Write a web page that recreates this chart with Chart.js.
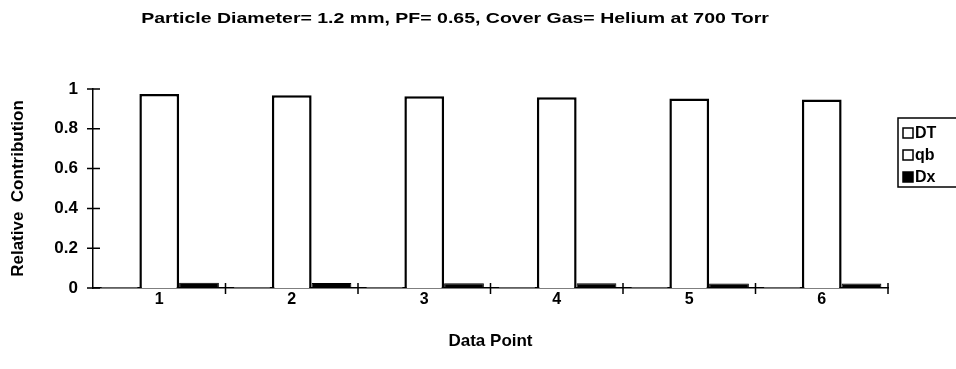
<!DOCTYPE html>
<html>
<head>
<meta charset="utf-8">
<script src="https://cdn.jsdelivr.net/npm/chart.js@4/dist/chart.umd.min.js"></script>
<style>
  html, body { margin: 0; padding: 0; background: #fff; overflow: hidden; }
  canvas { display: block; }
</style>
</head>
<body>
<canvas id="myChart" width="956" height="369"></canvas>
<script>
// Values
const categories = ['1', '2', '3', '4', '5', '6'];
const dtValues = [0.975, 0.968, 0.963, 0.958, 0.952, 0.947];
const qbValues = [0.004, 0.004, 0.004, 0.004, 0.004, 0.004];
const dxValues = [0.027, 0.025, 0.024, 0.024, 0.023, 0.023];
const yTickLabels = ['0', '0.2', '0.4', '0.6', '0.8', '1'];
const legendOrder = ['DT', 'qb', 'Dx'];

const titleText = 'Particle Diameter= 1.2 mm, PF= 0.65, Cover Gas= Helium at 700 Torr';
const FONT = '"Liberation Sans", Arial, sans-serif';

// title, crossing tick marks and the boxed legend
const decor = {
    id: 'decor',
    afterDraw(chart) {
        const ctx = chart.ctx;
        const x = chart.scales.x;
        const y = chart.scales.y;
        ctx.save();

        // the scanned title is set wide, so stretch it a bit
        ctx.save();
        ctx.fillStyle = '#000';
        ctx.font = 'bold 15px ' + FONT;
        ctx.textAlign = 'center';
        ctx.textBaseline = 'middle';
        ctx.translate(455, 19);
        ctx.scale(1.3, 1);
        ctx.fillText(titleText, 0, 0);
        ctx.restore();

        ctx.strokeStyle = '#000';
        ctx.lineWidth = 1.5;
        ctx.beginPath();
        y.ticks.forEach(t => {
            const py = y.getPixelForValue(t.value);
            ctx.moveTo(x.left - 6, py);
            ctx.lineTo(x.left + 7, py);
        });
        const half = (x.getPixelForValue(1) - x.getPixelForValue(0)) / 2;
        for (let i = 0; i < categories.length; i++) {
            const px = x.getPixelForValue(i) + half;
            ctx.moveTo(px, y.bottom - 5);
            ctx.lineTo(px, y.bottom + 6);
        }
        ctx.stroke();

        // legend
        const bx = 898, by = 118, bh = 69;
        ctx.lineWidth = 1.5;
        ctx.strokeRect(bx, by, 80, bh);
        ctx.font = 'bold 16px ' + FONT;
        ctx.textAlign = 'left';
        ctx.textBaseline = 'middle';
        legendOrder.forEach((name, i) => {
            const ds = chart.data.datasets.find(d => d.label === name);
            const cy = by + 15 + i * 22;
            ctx.fillStyle = ds.backgroundColor;
            ctx.fillRect(903, cy - 5, 10, 10);
            ctx.lineWidth = 1.5;
            ctx.strokeRect(903, cy - 5, 10, 10);
            ctx.fillStyle = '#000';
            ctx.fillText(name, 915, cy + 1);
        });
        ctx.restore();
    }
};

const ctx = document.getElementById('myChart');
new Chart(ctx, {
    type: 'bar',
    data: {
        labels: categories,
        datasets: [
            { label: 'qb', data: qbValues, backgroundColor: '#fff', borderColor: '#000', borderWidth: 2 },
            { label: 'DT', data: dtValues, backgroundColor: '#fff', borderColor: '#000', borderWidth: 2.5 },
            { label: 'Dx', data: dxValues, backgroundColor: '#000', borderColor: '#000', borderWidth: 1 }
        ]
    },
    options: {
        responsive: false,
        animation: false,
        events: [],
        layout: { padding: { top: 89, right: 68, left: 0, bottom: 0 } },
        datasets: { bar: { categoryPercentage: 0.9, barPercentage: 1.0 } },
        plugins: {
            legend: { display: false },
            title: { display: false },
            tooltip: { enabled: false }
        },
        scales: {
            x: {
                grid: { display: false, drawTicks: false },
                border: { color: '#000', width: 1.5 },
                ticks: { color: '#000', padding: 2, font: { family: FONT, size: 16, weight: 'bold' } },
                title: {
                    display: true, text: 'Data Point', color: '#000',
                    font: { family: FONT, size: 17, weight: 'bold' },
                    padding: { top: 0, bottom: 17 }
                },
                afterFit(scale) { scale.height = 81; }
            },
            y: {
                min: 0, max: 1,
                grid: { display: false, drawTicks: false },
                border: { color: '#000', width: 1.5 },
                ticks: {
                    stepSize: 0.2, color: '#000', padding: 15,
                    font: { family: FONT, size: 17, weight: 'bold' },
                    callback: (v, i) => yTickLabels[i]
                },
                title: {
                    display: true, text: 'Relative  Contribution', color: '#000',
                    font: { family: FONT, size: 17, weight: 'bold' },
                    padding: { top: 8, bottom: 0 }
                },
                afterFit(scale) { scale.width = 93; }
            }
        }
    },
    plugins: [decor]
});
</script>
</body>
</html>
